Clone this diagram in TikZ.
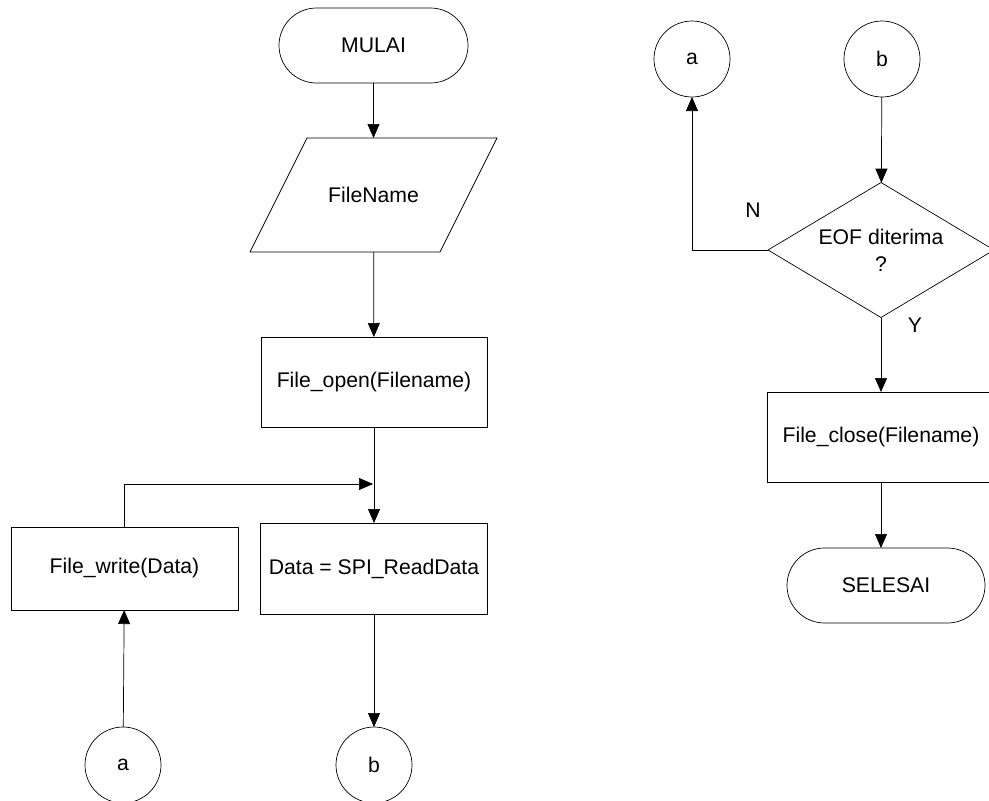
\documentclass[tikz,border=0pt]{standalone}
\usepackage{fontspec}
\setmainfont{Liberation Sans}
\usetikzlibrary{arrows.meta,shapes.geometric,shapes.misc}
\begin{document}
\begin{tikzpicture}[x=1pt,y=-1pt,
  every node/.style={font=\fontsize{21.2}{27}\selectfont, outer sep=0pt},
  box/.style={draw, rectangle, inner sep=0pt},
  term/.style={draw, rounded rectangle, inner sep=0pt, minimum height=75, minimum width=189},
  iotext/.style={rectangle, inner sep=0pt, minimum width=190, minimum height=114},
  conn/.style={draw, circle, minimum size=76, inner sep=0pt},
  decision/.style={draw, diamond, aspect=1.674, minimum width=226, minimum height=135,
                   inner sep=0pt, align=center},
  arr/.style={-{Triangle[length=14pt,width=12pt]}},
  flow/.style={line width=0.7pt, black},
  lbl/.style={inner sep=0pt}
]
\useasboundingbox (0,0) rectangle (989,801);
\clip (0,0) rectangle (989,801);
\begin{scope}[every path/.append style={line width=0.7pt}]
% left column
\node[term] (start) at (373.5,45.5) {MULAI};
% input/output parallelogram: text node plus its slanted outline
\node[iotext] (fname) at (373.5,195) {FileName};
\draw (307,138) -- (497,138) -- (440,252) -- (250,252) -- cycle;
\node[box, minimum width=226, minimum height=90] (fopen) at (374,382) {File\_open(Filename)};
\node[box, minimum width=227, minimum height=91] (data) at (374,568.5) {Data = SPI\_ReadData};
\node[box, minimum width=227, minimum height=83] (fwrite) at (124.5,568.5) {File\_write(Data)};
\node[conn] (la) at (123,765) {a};
\node[conn] (lb) at (374,765) {b};
\coordinate (merge) at (373,484);

% right column
\node[conn] (ra) at (692,59) {a};
\node[conn] (rb) at (882,59) {b};
\node[decision] (eof) at (881,250) {EOF diterima\\?};
\node[box, minimum width=228, minimum height=90] (fclose) at (881,437) {File\_close(Filename)};
\node[term, minimum width=198] (stop) at (886,585.5) {SELESAI};
\node[lbl] at (753,210) {N};
\node[lbl] at (915,325) {Y};
\end{scope}

% connectors
\begin{scope}[flow]
\draw[arr] (start) -- (fname);
\draw[arr] (fname) -- (fopen);
\draw[arr] (fopen) -- (data);
\draw[arr] (fwrite.north) |- (merge);
\draw[arr] (data) -- (lb);
\draw[arr] (la) -- (fwrite);
\draw[arr] (rb) -- (eof);
\draw[arr] (eof.west) -| (ra.south);
\draw[arr] (eof.south) -- (fclose.north);
\draw[arr] (fclose.south) -- (stop.north -| fclose.south);
\end{scope}
\end{tikzpicture}
\end{document}
